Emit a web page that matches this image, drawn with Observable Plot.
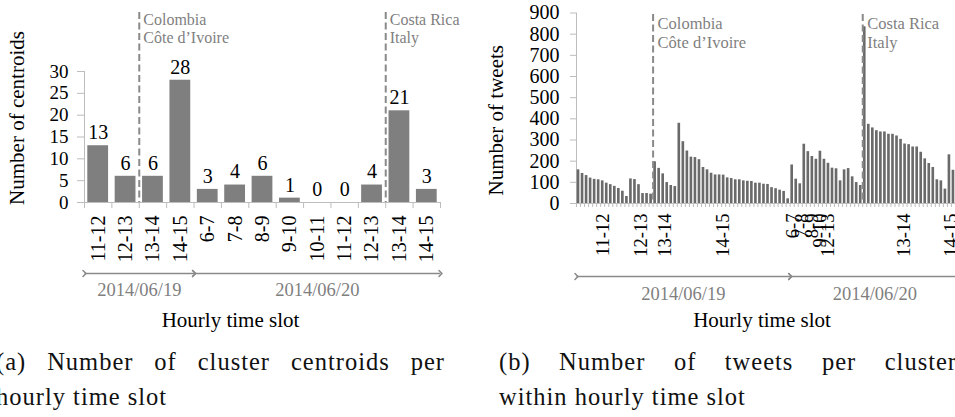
<!DOCTYPE html>
<html><head><meta charset="utf-8">
<script src="https://cdn.jsdelivr.net/npm/d3@7"></script>
<script src="https://cdn.jsdelivr.net/npm/@observablehq/plot@0.6"></script>
<style>
html,body{margin:0;padding:0;background:#fff;overflow:hidden;}
#fig{position:relative;width:955px;height:417px;overflow:hidden;background:#fff;}
#fig, #fig div, #fig svg, #fig text, #fig tspan{font-family:'Liberation Serif','Times New Roman',Tinos,serif !important;}
.panel{position:absolute;top:0;}
.panel svg{display:block;max-width:none;}
.cap{position:absolute;font-size:24.5px;letter-spacing:1px;line-height:35px;color:#111;white-space:nowrap;}
.just{text-align:justify;text-align-last:justify;white-space:normal;}
g[aria-label='y-axis tick'], g[aria-label='x-axis tick']{stroke:#bdbdbd;}
</style></head>
<body><div id="fig">
<div id="pa" class="panel" style="left:0;width:480px"></div>
<div id="pb" class="panel" style="left:480px;width:490px"></div>
<div class="cap just" style="left:-4px;top:344px;width:449px;font-family:'Liberation Serif',serif">(a) Number of cluster centroids per</div>
<div class="cap" style="left:-4px;top:379px;font-family:'Liberation Serif',serif">hourly time slot</div>
<div class="cap just" style="left:499px;top:344px;width:458px;font-family:'Liberation Serif',serif">(b) Number of tweets per cluster</div>
<div class="cap" style="left:499px;top:379px;font-family:'Liberation Serif',serif">within hourly time slot</div>
</div>
<script>
// ---- data ----
const slots = ["11-12","12-13","13-14","14-15","6-7","7-8","8-9","9-10","10-11","11-12","12-13","13-14","14-15"];
const slotDays = ["2014/06/19","2014/06/19","2014/06/19","2014/06/19",
  "2014/06/20","2014/06/20","2014/06/20","2014/06/20","2014/06/20","2014/06/20","2014/06/20","2014/06/20","2014/06/20"];
const days = ["2014/06/19","2014/06/20"];
const centroids = [13,6,6,28,3,4,6,1,0,0,4,21,3];

const tweets_19_1112 = [159,142,132,120,114,112,107,96,89,81,71,58,33];
const tweets_19_1213 = [116,113,89,47,47,44];
const tweets_19_1314 = [197,166,140,99,85,80];
const tweets_19_1415 = [379,292,248,219,217,207,170,159,143,135,135,134,121,118,112,112,107,105,104,96,96,91,90,75,70,63,57,22];
const tweets_20_0607 = [182,115,93];
const tweets_20_0708 = [280,245,222,209];
const tweets_20_0809 = [247,209,190,167,164,107];
const tweets_20_0910 = [159];
const tweets_20_1011 = [];
const tweets_20_1112 = [];
const tweets_20_1213 = [165,126,99,85];
const tweets_20_1314 = [835,374,357,344,338,338,327,327,319,303,281,278,267,267,242,211,189,170,112,107,68];
const tweets_20_1415 = [230,157,120];

const matchSlots = [2, 11];
const matchTeams = ["Colombia\nCôte d’Ivoire", "Costa Rica\nItaly"];

const yTicksA = [0,5,10,15,20,25,30];
const yTicksB = [0,100,200,300,400,500,600,700,800,900];
const tickLabelsB = ["11-12","12-13","13-14","14-15","6-7","7-8","8-9","9-10","12-13","13-14","14-15"];
const tickPosB = [6, 15.5, 21.5, 35.75, 53.25, 55.5, 58, 60, 62, 80.75, 92.5];

const yTitleA = "Number of centroids";
const yTitleB = "Number of tweets";
const xTitle = "Hourly time slot";

// ---- derived tables ----
const tweetsBySlot = [tweets_19_1112, tweets_19_1213, tweets_19_1314, tweets_19_1415,
  tweets_20_0607, tweets_20_0708, tweets_20_0809, tweets_20_0910, tweets_20_1011,
  tweets_20_1112, tweets_20_1213, tweets_20_1314, tweets_20_1415];

const barsA = centroids.map((v, i) => ({i, v}));
const dayRangesA = days.map(d => ({day: d, start: slotDays.indexOf(d), end: slotDays.lastIndexOf(d)}));

const barsB = [];
const slotStartB = [];
tweetsBySlot.forEach((arr, k) => {
  slotStartB.push(barsB.length);
  arr.forEach(v => barsB.push({i: barsB.length, v, k}));
});
const nB = barsB.length;
const dayRangesB = days.map(d => {
  const s0 = slotDays.indexOf(d), s1 = slotDays.lastIndexOf(d);
  const end = (s1 + 1 < slots.length ? slotStartB[s1 + 1] : nB) - 1;
  return {day: d, start: slotStartB[s0], end};
});
const matchBarsB = matchSlots.map(s => slotStartB[s]);

const FONT = "'Liberation Serif', serif";
const AXIS = "#bdbdbd";
const GREY_TXT = "#7f7f7f";
const T = (o) => Object.assign({fontFamily: FONT}, o);

// ---- panel (a) ----
const plotA = Plot.plot({
  width: 480, height: 340,
  marginLeft: 84, marginRight: 40, marginTop: 71, marginBottom: 138,
  style: {fontFamily: FONT, fontSize: "19px", overflow: "visible", color: "#000", background: "transparent"},
  x: {domain: [-0.5, slots.length - 0.5], label: null},
  y: {domain: [0, 30], label: null},
  marks: [
    Plot.ruleY([0], {stroke: AXIS}),
    Plot.ruleX([-0.5], {stroke: AXIS}),
    Plot.axisX(d3.range(slots.length + 1).map(i => i - 0.5), {tickSize: 6, tickFormat: () => "", label: null}),
    Plot.axisY(yTicksA, T({tickSize: 7, tickPadding: 9, fontSize: 19, label: null})),
    Plot.rectY(barsA, {x1: d => d.i - 0.5, x2: d => d.i + 0.5, y: "v", insetLeft: 3.3, insetRight: 3.3, fill: "#7f7f7f"}),
    Plot.text(barsA, T({x: "i", y: "v", text: "v", dy: -13, fontSize: 20, fill: "#000"})),
    Plot.ruleX(matchSlots, {x: d => d - 0.5, insetTop: -59, stroke: "#8a8a8a", strokeWidth: 2, strokeDasharray: "7,3.5"}),
    Plot.text(matchSlots, T({x: d => d - 0.5, frameAnchor: "top", text: (d, i) => matchTeams[i],
      textAnchor: "start", lineAnchor: "top", dx: 4, dy: -59, fill: GREY_TXT, fontSize: 16, lineHeight: 1.13})),
    Plot.text(slots, T({x: (d, i) => i, frameAnchor: "bottom", text: d => d, rotate: -90,
      textAnchor: "end", lineAnchor: "middle", dy: 13, fontSize: 20, fill: "#000"})),
    Plot.link(dayRangesA, {x1: d => d.start - 0.5, x2: d => d.end + 0.5, y1: 0, y2: 0, dy: 71,
      stroke: "#8a8a8a", strokeWidth: 1.5, markerStart: "arrow", markerEnd: "arrow"}),
    Plot.text(dayRangesA, T({x: d => (d.start + d.end) / 2, frameAnchor: "bottom", text: "day",
      textAnchor: "middle", lineAnchor: "middle", dy: 88, fill: GREY_TXT, fontSize: 18.5})),
    Plot.text([xTitle], T({text: d => d, frameAnchor: "bottom", textAnchor: "middle", lineAnchor: "middle",
      dx: -32, dy: 118, fontSize: 21, fill: "#000"})),
    Plot.text([yTitleA], T({text: d => d, frameAnchor: "left", rotate: -90, textAnchor: "middle", lineAnchor: "middle",
      dx: -67, dy: -19, fontSize: 21, fill: "#000"}))
  ]
});
document.getElementById("pa").append(plotA);

// ---- panel (b) ----
const plotB = Plot.plot({
  width: 490, height: 340,
  marginLeft: 96, marginRight: 11, marginTop: 12.5, marginBottom: 137,
  style: {fontFamily: FONT, fontSize: "20px", overflow: "visible", color: "#000", background: "transparent"},
  x: {domain: [-0.5, nB - 0.5], label: null},
  y: {domain: [0, 900], label: null},
  marks: [
    Plot.ruleY([0], {stroke: AXIS}),
    Plot.ruleX([-0.5], {stroke: AXIS}),
    Plot.axisX(d3.range(nB + 1).map(i => i - 0.5), {tickSize: 4, tickFormat: () => "", label: null}),
    Plot.axisY(yTicksB, T({tickSize: 6, tickPadding: 11, fontSize: 20, label: null})),
    Plot.rectY(barsB, {x1: d => d.i - 0.5, x2: d => d.i + 0.5, y: "v", insetLeft: 0.7, insetRight: 0.7, fill: "#6a6a6a"}),
    Plot.ruleX(matchBarsB, {x: d => d - 0.5, insetTop: 1.5, stroke: "#8a8a8a", strokeWidth: 2, strokeDasharray: "7,3.5"}),
    Plot.text(matchBarsB, T({x: d => d - 0.5, frameAnchor: "top", text: (d, i) => matchTeams[i],
      textAnchor: "start", lineAnchor: "top", dx: 4.5, dy: 2.5, fill: GREY_TXT, fontSize: 16.5, lineHeight: 1.15})),
    Plot.text(tickLabelsB, T({x: (d, i) => tickPosB[i], frameAnchor: "bottom", text: d => d, rotate: -90,
      textAnchor: "end", lineAnchor: "middle", dy: 10, fontSize: 18.5, fill: "#000"})),
    Plot.link(dayRangesB, {x1: d => d.start - 0.5, x2: d => d.end + 0.5, y1: 0, y2: 0, dy: 73,
      stroke: "#8a8a8a", strokeWidth: 1.5, markerStart: "arrow", markerEnd: "arrow"}),
    Plot.text(dayRangesB, T({x: d => (d.start + d.end) / 2, frameAnchor: "bottom", text: "day",
      textAnchor: "middle", lineAnchor: "middle", dy: 91, fill: GREY_TXT, fontSize: 18.5})),
    Plot.text([xTitle], T({text: d => d, frameAnchor: "bottom", textAnchor: "middle", lineAnchor: "middle",
      dx: -6, dy: 117, fontSize: 21, fill: "#000"})),
    Plot.text([yTitleB], T({text: d => d, frameAnchor: "left", rotate: -90, textAnchor: "middle", lineAnchor: "middle",
      dx: -80, dy: 12, fontSize: 21, fill: "#000"}))
  ]
});
document.getElementById("pb").append(plotB);
</script>
</body></html>
